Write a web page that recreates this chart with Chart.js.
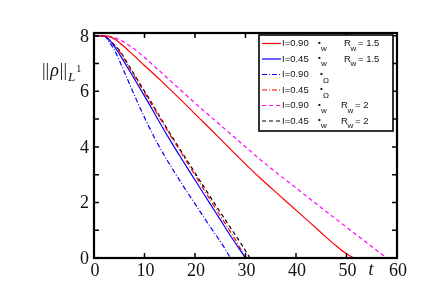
<!DOCTYPE html>
<html>
<head>
<meta charset="utf-8">
<script src="https://cdn.jsdelivr.net/npm/chart.js@4.4.0/dist/chart.umd.min.js"></script>
<style>
  html, body { margin: 0; padding: 0; background: #fff; }
  #wrap { width: 434px; height: 289px; }
</style>
</head>
<body>
<div id="wrap"><canvas id="c" width="434" height="289"></canvas></div>
<script>
// axis ticks
const xTicks = [0, 10, 20, 30, 40, 50, 60]
const yTicks = [0, 2, 4, 6, 8]

// legend text
const legendI = ['I=0.90', 'I=0.45', 'I=0.90', 'I=0.45', 'I=0.90', 'I=0.45']
const legendSub = ['w', 'w', 'Ω', 'Ω', 'w', 'w']
const legendR = ['1.5', '1.5', '', '', '2', '2']

// I=0.90, R_w = 1.5 (red solid)
const tRed = [0, 2, 3.4, 5, 7, 10, 13, 15, 17, 20, 21, 25, 29, 33, 37, 41, 45, 46.5, 48, 50, 51.5]
const vRed = [8, 8, 7.95, 7.76, 7.44, 6.93, 6.43, 6.08, 5.73, 5.19, 5.01, 4.29, 3.56, 2.86, 2.21, 1.56, 0.91, 0.66, 0.43, 0.15, 0]

// I=0.45, R_w = 1.5 (blue solid)
const tBlue = [0, 2, 3, 4, 5, 7, 9, 11, 13, 15, 17, 19, 21, 23, 25, 27, 28.5, 30]
const vBlue = [8, 8, 7.85, 7.63, 7.35, 6.75, 6.14, 5.52, 4.88, 4.26, 3.67, 3.09, 2.52, 1.95, 1.38, 0.81, 0.4, 0]

// I=0.90, Omega (blue dash-dot)
const tBlueDD = [0, 2, 3, 4, 6, 8, 10, 12, 14, 16, 18, 20, 22, 24, 26, 27]
const vBlueDD = [8, 8, 7.78, 7.5, 6.7, 5.86, 5.06, 4.32, 3.67, 3.07, 2.5, 1.95, 1.4, 0.86, 0.32, 0]

// I=0.45, Omega (red dash-dot)
const tRedDD = [0, 2, 3, 5, 7, 9, 11, 13, 15, 17, 19, 21, 23, 25, 27, 28.5, 30]
const vRedDD = [8, 8, 7.85, 7.45, 6.85, 6.25, 5.65, 5.05, 4.45, 3.87, 3.28, 2.69, 2.1, 1.52, 0.95, 0.5, 0]

// I=0.90, R_w = 2 (magenta dashed)
const tMag = [0, 3, 5, 8, 10, 13, 17, 21, 25, 29, 33, 37, 41, 45, 49, 53, 56, 58]
const vMag = [8, 7.97, 7.86, 7.52, 7.22, 6.73, 6.07, 5.42, 4.79, 4.16, 3.53, 2.95, 2.38, 1.81, 1.25, 0.69, 0.27, 0]

// I=0.45, R_w = 2 (black dashed)
const tBlack = [0, 2, 3, 5, 7, 9, 11, 13, 15, 17, 19, 21, 23, 25, 27, 29, 30.9]
const vBlack = [8, 8, 7.85, 7.48, 6.9, 6.3, 5.71, 5.1, 4.5, 3.92, 3.35, 2.78, 2.21, 1.65, 1.1, 0.55, 0]

const pts = (t, v) => t.map((x, i) => ({ x: x, y: v[i] }))

const series = [
	{ label: legendI[0], data: pts(tRed, vRed), borderColor: '#ff0000', borderDash: [] },
	{ label: legendI[1], data: pts(tBlue, vBlue), borderColor: '#0000ff', borderDash: [] },
	{ label: legendI[2], data: pts(tBlueDD, vBlueDD), borderColor: '#0000ff', borderDash: [5, 2, 1, 2] },
	{ label: legendI[3], data: pts(tRedDD, vRedDD), borderColor: '#ff0000', borderDash: [5, 2, 1, 2] },
	{ label: legendI[4], data: pts(tMag, vMag), borderColor: '#ff00ff', borderDash: [4, 3] },
	{ label: legendI[5], data: pts(tBlack, vBlack), borderColor: '#000000', borderDash: [4, 3] },
]

const serif = '"Liberation Serif", "Times New Roman", serif'
const sans = '"Liberation Sans", Arial, sans-serif'

const decor = {
	id: 'decor',
	afterDatasetsDraw(chart) {
		const ctx = chart.ctx
		const a = chart.chartArea
		const xs = chart.scales.x
		const ys = chart.scales.y
		ctx.save()
		ctx.strokeStyle = '#000'
		ctx.lineWidth = 1.5

		// inward ticks on all four sides
		ctx.beginPath()
		for (const v of xTicks) {
			const px = xs.getPixelForValue(v)
			ctx.moveTo(px, a.bottom); ctx.lineTo(px, a.bottom - 5)
			ctx.moveTo(px, a.top); ctx.lineTo(px, a.top + 5)
		}
		for (let v = 0; v <= 8; v++) {
			const py = ys.getPixelForValue(v)
			ctx.moveTo(a.left, py); ctx.lineTo(a.left + 5, py)
			ctx.moveTo(a.right, py); ctx.lineTo(a.right - 5, py)
		}
		ctx.stroke()

		// frame
		ctx.lineWidth = 2.2
		ctx.strokeRect(a.left, a.top, a.right - a.left, a.bottom - a.top)

		// tick labels
		ctx.fillStyle = '#111'
		ctx.font = '18px ' + serif
		ctx.textAlign = 'center'
		ctx.textBaseline = 'alphabetic'
		for (const v of xTicks) {
			ctx.fillText(String(v), xs.getPixelForValue(v) + 1, a.bottom + 18)
		}
		ctx.textAlign = 'right'
		for (const v of yTicks) {
			ctx.fillText(String(v), a.left - 5, ys.getPixelForValue(v) + 6)
		}
		ctx.textAlign = 'center'
		ctx.font = 'italic 18px ' + serif
		ctx.fillText('t', 371, a.bottom + 17)

		// y title: ||rho||_{L^1}
		ctx.textAlign = 'left'
		let x = 42
		ctx.font = '18px ' + serif
		ctx.fillText('||', x, 76); x += ctx.measureText('||').width + 1
		ctx.font = 'italic 18px ' + serif
		ctx.fillText('ρ', x, 76); x += ctx.measureText('ρ').width + 1
		ctx.font = '18px ' + serif
		ctx.fillText('||', x, 76); x += ctx.measureText('||').width + 1
		ctx.font = 'italic 13px ' + serif
		ctx.fillText('L', x, 81); x += ctx.measureText('L').width + 1
		ctx.font = '10px ' + serif
		ctx.fillText('1', x, 72)

		// legend box
		const bx = 259, by = 35, bw = 134, bh = 96
		ctx.fillStyle = '#fff'
		ctx.fillRect(bx, by, bw, bh)
		ctx.lineWidth = 1.6
		ctx.strokeStyle = '#000'
		ctx.strokeRect(bx, by, bw, bh)
		chart.data.datasets.forEach((ds, i) => {
			const cy = 43.5 + i * 15.5
			ctx.save()
			ctx.strokeStyle = ds.borderColor
			ctx.lineWidth = 1.2
			ctx.setLineDash(ds.borderDash)
			ctx.beginPath()
			ctx.moveTo(262, cy); ctx.lineTo(281, cy)
			ctx.stroke()
			ctx.restore()
			ctx.fillStyle = '#111'
			ctx.font = '9.5px ' + sans
			ctx.textBaseline = 'middle'
			ctx.fillText(ds.label, 282, cy)
			const omega = legendSub[i] === 'Ω'
			const bxp = omega ? 320 : 318
			ctx.font = 'bold 8px ' + sans
			ctx.fillText('•', bxp, cy - 1)
			ctx.font = '8px ' + sans
			ctx.fillText(legendSub[i], bxp + 3, cy + (omega ? 6 : 5))
			if (legendR[i]) {
				const rx = legendR[i] === '2' ? 341 : 344
				ctx.font = '9.5px ' + sans
				ctx.fillText('R', rx, cy)
				ctx.font = '8px ' + sans
				ctx.fillText('w', rx + 6.5, cy + 5)
				ctx.font = '9.5px ' + sans
				ctx.fillText('= ' + legendR[i], rx + 14, cy)
			}
			ctx.textBaseline = 'alphabetic'
		})
		ctx.restore()
	},
}

new Chart(document.getElementById('c').getContext('2d'), {
	type: 'line',
	data: {
		datasets: series.map((s) => ({
			label: s.label,
			data: s.data,
			borderColor: s.borderColor,
			borderDash: s.borderDash,
			borderWidth: 1.2,
			pointRadius: 0,
			fill: false,
			cubicInterpolationMode: 'monotone',
		})),
	},
	options: {
		responsive: false,
		animation: false,
		layout: { padding: { left: 94, right: 37, top: 33, bottom: 31 } },
		plugins: { legend: { display: false }, tooltip: { enabled: false } },
		scales: {
			x: { type: 'linear', min: 0, max: 60, display: false },
			y: { type: 'linear', min: 0, max: 8.1, display: false },
		},
	},
	plugins: [decor],
})
</script>
</body>
</html>
